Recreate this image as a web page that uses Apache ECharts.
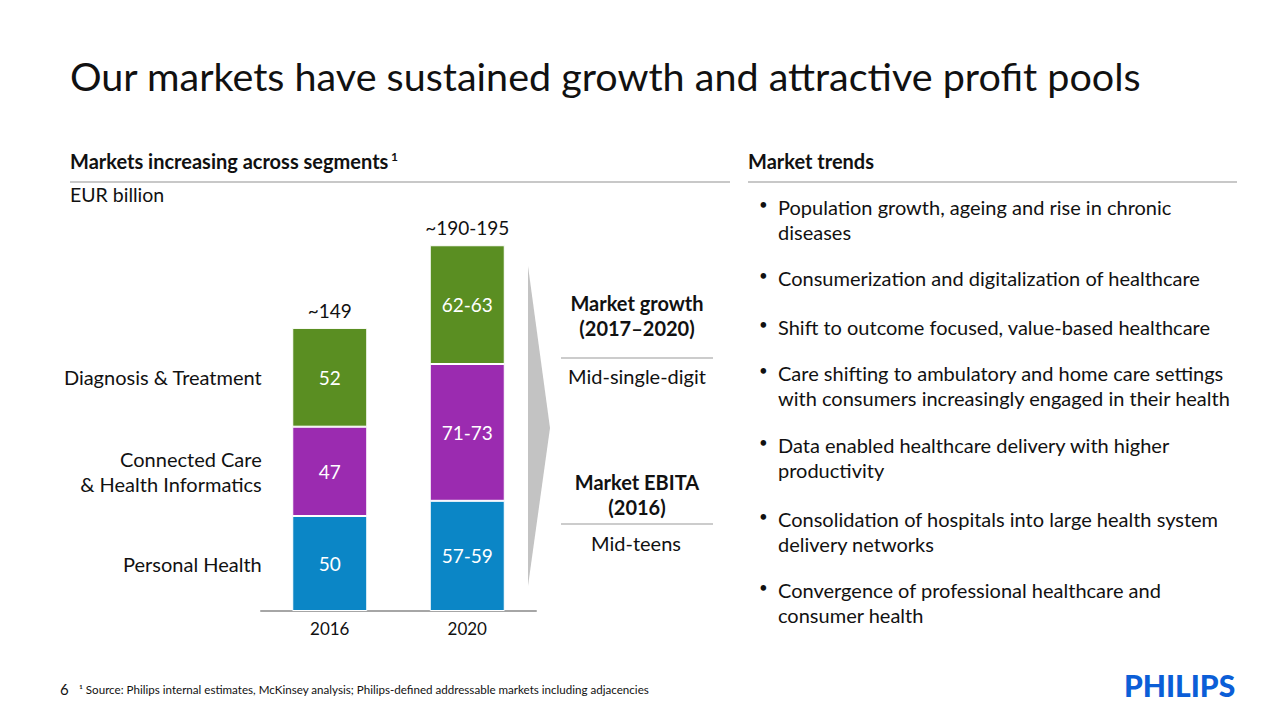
<!DOCTYPE html>
<html><head><meta charset="utf-8">
<script src="https://cdn.jsdelivr.net/npm/echarts@6/dist/echarts.min.js"></script>
<style>html,body{margin:0;padding:0;background:#fff}#c{width:1280px;height:720px}</style>
</head><body><div id="c"></div>
<script>
// ---- data ----
const categories = ['2016', '2020'];
const segmentNames = ['Personal Health', 'Connected Care\n& Health Informatics', 'Diagnosis & Treatment'];
const personalHealth = [50, 58];
const connectedCare = [47, 72];
const diagnosisTreatment = [52, 62.5];
const personalHealthLabels = ['50', '57-59'];
const connectedCareLabels = ['47', '71-73'];
const diagnosisTreatmentLabels = ['52', '62-63'];
const totalLabels = ['~149', '~190-195'];
const trends = [
  'Population growth, ageing and rise in chronic\ndiseases',
  'Consumerization and digitalization of healthcare',
  'Shift to outcome focused, value-based healthcare',
  'Care shifting to ambulatory and home care settings\nwith consumers increasingly engaged in their health',
  'Data enabled healthcare delivery with higher\nproductivity',
  'Consolidation of hospitals into large health system\ndelivery networks',
  'Convergence of professional healthcare and\nconsumer health'
];

const FONT = 'Lato, "Open Sans", sans-serif';
const colors = ['#0b86c6', '#9b2bb0', '#5a8e22'];
const seriesVals = [personalHealth, connectedCare, diagnosisTreatment];
const seriesLbls = [personalHealthLabels, connectedCareLabels, diagnosisTreatmentLabels];

const barSeries = seriesVals.map((vals, i) => ({
  type: 'bar', name: segmentNames[i], stack: 'total', barWidth: 75,
  data: vals,
  itemStyle: { color: colors[i], borderColor: '#fff', borderWidth: 1 },
  label: { show: true, position: 'inside', color: '#fff', fontSize: 19, fontFamily: FONT,
    formatter: p => seriesLbls[i][p.dataIndex] },
  silent: true
}));

const totals = categories.map((c, j) => seriesVals.reduce((s, v) => s + v[j], 0));
let cum = 0;
const namePoints = seriesVals.map((vals, i) => { const mid = cum + vals[0] / 2; cum += vals[0]; return [0, mid, segmentNames[i]]; });

const trendY = [207, 278, 327, 373, 445, 519, 590];
const graphics = [
  { type: 'text', left: 70, top: 55, style: { text: 'Our markets have sustained growth and attractive profit pools', font: '39.5px ' + FONT, fill: '#111' } },
  { type: 'text', left: 70, top: 151, style: { text: 'Markets increasing across segments', font: 'bold 20px ' + FONT, fill: '#111' } },
  { type: 'text', left: 391, top: 150, style: { text: '1', font: 'bold 12px ' + FONT, fill: '#111' } },
  { type: 'line', shape: { x1: 70, y1: 182, x2: 730, y2: 182 }, style: { stroke: '#c8c8c8', lineWidth: 2 } },
  { type: 'text', left: 70, top: 184, style: { text: 'EUR billion', font: '19.5px ' + FONT, fill: '#111' } },
  { type: 'text', left: 748, top: 151, style: { text: 'Market trends', font: 'bold 20px ' + FONT, fill: '#111' } },
  { type: 'line', shape: { x1: 748, y1: 182, x2: 1237, y2: 182 }, style: { stroke: '#c8c8c8', lineWidth: 2 } },
  { type: 'polygon', shape: { points: [[528, 266], [550, 428], [528, 586]] }, style: { fill: '#c3c3c3' } },
  { type: 'text', x: 637, y: 315, style: { text: 'Market growth\n(2017\u20132020)', font: 'bold 20px ' + FONT, fill: '#111', align: 'center', verticalAlign: 'middle', lineHeight: 25 } },
  { type: 'line', shape: { x1: 561, y1: 358, x2: 713, y2: 358 }, style: { stroke: '#bbbbbb', lineWidth: 1.5 } },
  { type: 'text', x: 637, y: 376, style: { text: 'Mid-single-digit', font: '20px ' + FONT, fill: '#111', align: 'center', verticalAlign: 'middle' } },
  { type: 'text', x: 637, y: 494, style: { text: 'Market EBITA\n(2016)', font: 'bold 20px ' + FONT, fill: '#111', align: 'center', verticalAlign: 'middle', lineHeight: 25 } },
  { type: 'line', shape: { x1: 561, y1: 524, x2: 713, y2: 524 }, style: { stroke: '#bbbbbb', lineWidth: 1.5 } },
  { type: 'text', x: 636, y: 543, style: { text: 'Mid-teens', font: '20px ' + FONT, fill: '#111', align: 'center', verticalAlign: 'middle' } },
  { type: 'text', left: 60, top: 681, style: { text: '6', font: '15px ' + FONT, fill: '#111' } },
  { type: 'text', left: 79, top: 683, style: { text: '\u00b9 Source: Philips internal estimates, McKinsey analysis; Philips-defined addressable markets including adjacencies', font: '11.6px ' + FONT, fill: '#111' } },
  { type: 'text', left: 1124, top: 670, style: { text: 'PHILIPS', font: '900 30px ' + FONT, fill: '#0b5ed7' } }
];
trends.forEach((t, i) => {
  graphics.push({ type: 'text', left: 759, top: trendY[i] - 11, style: { text: '\u2022', font: '15px ' + FONT, fill: '#111' } });
  graphics.push({ type: 'text', left: 778, top: trendY[i] - 13, style: { text: t, font: '20px ' + FONT, fill: '#111', lineHeight: 25 } });
});

const chart = echarts.init(document.getElementById('c'), null, { renderer: 'svg' });
chart.setOption({
  animation: false,
  backgroundColor: '#fff',
  grid: { left: 261, right: 744, top: 231, bottom: 109 },
  xAxis: {
    type: 'category', data: categories,
    axisLine: { lineStyle: { color: '#a6a6a6', width: 2 } },
    axisTick: { show: false },
    axisLabel: { color: '#111', fontSize: 17, fontFamily: FONT, margin: 9 }
  },
  yAxis: { type: 'value', min: 0, max: 200, show: false, splitLine: { show: false } },
  series: [
    ...barSeries,
    { type: 'scatter', name: 'totals', symbolSize: 0, silent: true,
      itemStyle: { opacity: 1 },
      data: totals.map((v, j) => [j, v]),
      label: { show: true, position: 'top', distance: 8, color: '#111', fontSize: 19, fontFamily: FONT,
        formatter: p => totalLabels[p.dataIndex] } },
    { type: 'scatter', name: 'segment names', symbolSize: 0, silent: true,
      itemStyle: { opacity: 1 },
      data: namePoints,
      label: { show: true, position: 'left', distance: 68, color: '#111', fontSize: 20, fontFamily: FONT,
        align: 'right', lineHeight: 25, formatter: p => p.data[2] } }
  ],
  graphic: graphics
});
</script></body></html>
